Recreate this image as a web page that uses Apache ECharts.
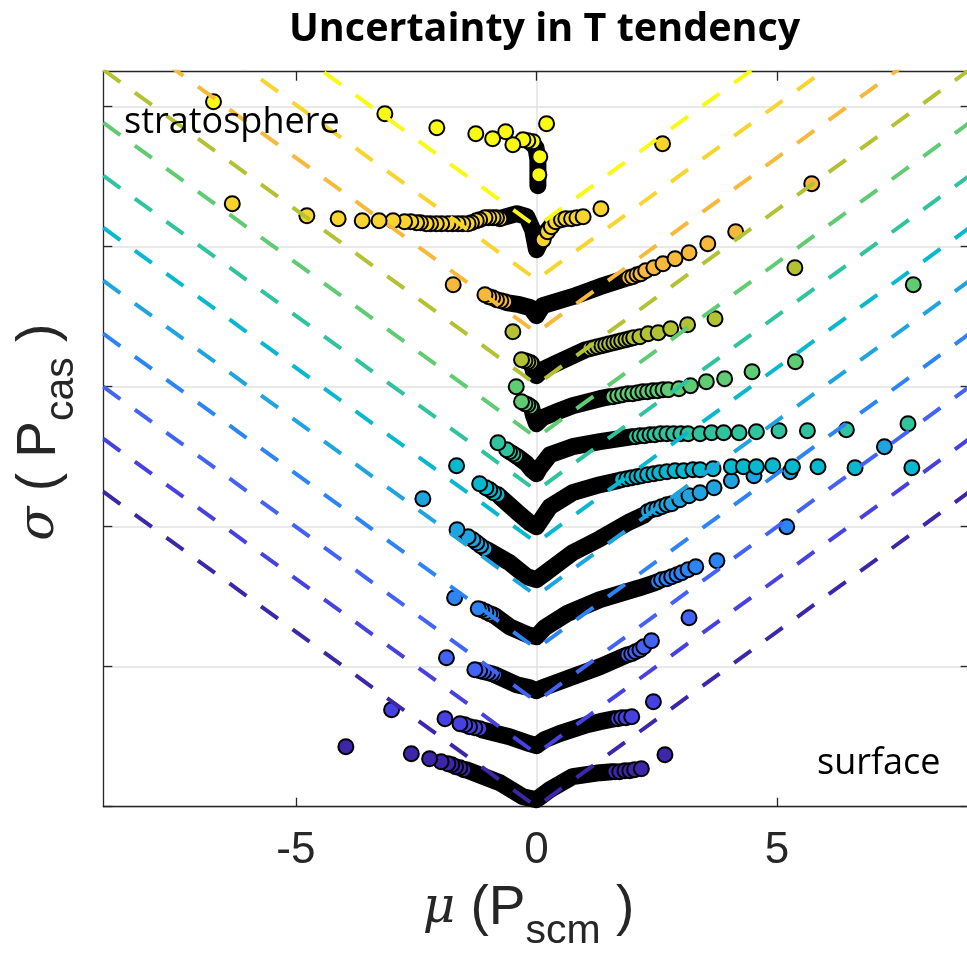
<!DOCTYPE html>
<html>
<head>
<meta charset="utf-8">
<script src="https://cdn.jsdelivr.net/npm/echarts@6/dist/echarts.min.js"></script>
<style>
  html, body { margin: 0; padding: 0; background: #fff; overflow: hidden; }
  #main { width: 967px; height: 957px; }
</style>
</head>
<body>
<div id="main"></div>
<script>
// x: mu (P_scm), y: offset sigma levels (no tick labels in the original)
const xTicks = [-5, 0, 5];
const yTicks = [0, 1.4, 2.8, 4.2, 5.6, 7.0];

// one colour per level, bottom (surface) to top (stratosphere)
const levelColors = ['#3E26A8', '#4741E2', '#4263F5', '#2D84F5', '#1FA4E0', '#08B8CF',
  '#2FC39E', '#5FCB73', '#B2C232', '#F6B93C', '#F8D52E', '#F9FA14'];

// dashed V guide lines: vertex height per level, rise at |mu| = 9
const vLevels = [0, 0.53, 1.05, 1.58, 2.11, 2.64, 3.16, 3.69, 4.22, 4.74, 5.27, 5.80];
const vRise = 3.15;

// dense cores (black mass of overlapping markers) and the visible markers per level
const band0 = [[-1.46, 0.37], [-0.76, 0.24], [-0.28, 0.10], [0, 0.07], [0.28, 0.17], [0.75, 0.30], [1.32, 0.34], [1.57, 0.35]];
const dots0 = [[-1.51, 0.37], [-1.59, 0.39], [-1.68, 0.40], [-1.76, 0.42], [-1.84, 0.43], [-1.98, 0.45], [-2.22, 0.48], [-2.60, 0.53], [-3.96, 0.60],
  [1.63, 0.35], [1.73, 0.35], [1.84, 0.36], [1.94, 0.36], [2.04, 0.37], [2.18, 0.38], [2.67, 0.52]];

const band1 = [[-1.14, 0.77], [-0.56, 0.70], [-0.14, 0.63], [0, 0.61], [0.17, 0.67], [0.48, 0.73], [1.05, 0.82], [1.32, 0.85], [1.63, 0.88]];
const dots1 = [[-1.18, 0.78], [-1.28, 0.79], [-1.39, 0.80], [-1.49, 0.82], [-1.59, 0.83], [-1.90, 0.88], [-3.01, 0.97],
  [1.69, 0.88], [1.77, 0.89], [1.86, 0.89], [1.98, 0.90], [2.43, 1.05]];

const band2 = [[-0.82, 1.31], [-0.41, 1.22], [-0.14, 1.19], [0, 1.16], [0.13, 1.19], [0.75, 1.30], [1.32, 1.40], [1.84, 1.51]];
const dots2 = [[-0.87, 1.32], [-0.93, 1.33], [-1.01, 1.34], [-1.10, 1.35], [-1.18, 1.36], [-1.28, 1.37], [-1.87, 1.49],
  [1.90, 1.52], [1.98, 1.53], [2.06, 1.55], [2.15, 1.57], [2.23, 1.60], [2.39, 1.66], [3.17, 1.89]];

const band3 = [[-0.87, 1.91], [-0.56, 1.80], [-0.18, 1.72], [0, 1.70], [0.17, 1.79], [0.63, 1.93], [1.32, 2.07], [2.15, 2.19], [2.46, 2.24]];
const dots3 = [[-0.91, 1.92], [-0.97, 1.93], [-1.05, 1.95], [-1.14, 1.97], [-1.21, 1.98], [-1.70, 2.09],
  [2.52, 2.25], [2.60, 2.27], [2.71, 2.28], [2.81, 2.30], [2.92, 2.32], [3.02, 2.34], [3.15, 2.37], [3.31, 2.40], [3.75, 2.46], [5.20, 2.80]];

const band4 = [[-1.03, 2.57], [-0.56, 2.44], [-0.20, 2.30], [0, 2.27], [0.17, 2.33], [0.75, 2.54], [1.32, 2.68], [1.94, 2.85], [2.25, 2.92]];
const dots4 = [[-1.07, 2.58], [-1.16, 2.61], [-1.24, 2.64], [-1.32, 2.67], [-1.42, 2.70], [-1.65, 2.77], [-2.36, 3.08],
  [2.31, 2.95], [2.40, 2.97], [2.50, 2.98], [2.60, 3.00], [2.71, 3.02], [2.81, 3.03], [2.98, 3.07], [3.17, 3.11], [3.40, 3.14],
  [3.69, 3.19], [4.05, 3.26], [4.52, 3.31], [5.27, 3.35], [7.23, 3.60]];

const band5 = [[-0.76, 3.10], [-0.41, 2.95], [-0.14, 2.84], [0, 2.80], [0.07, 2.85], [0.28, 3.00], [0.75, 3.14], [1.32, 3.22], [1.69, 3.26]];
const dots5 = [[-0.80, 3.12], [-0.89, 3.14], [-0.97, 3.17], [-1.05, 3.19], [-1.18, 3.23], [-1.66, 3.41],
  [1.77, 3.27], [1.88, 3.28], [1.98, 3.29], [2.09, 3.30], [2.19, 3.31], [2.31, 3.32], [2.44, 3.33], [2.56, 3.34], [2.71, 3.35],
  [2.88, 3.36], [3.06, 3.36], [3.25, 3.37], [3.40, 3.37], [3.67, 3.38], [4.05, 3.40], [4.30, 3.40], [4.57, 3.40], [4.91, 3.41],
  [5.32, 3.40], [5.85, 3.40], [6.62, 3.39], [7.80, 3.39]];

const band6 = [[-0.39, 3.50], [-0.20, 3.43], [-0.10, 3.37], [0, 3.33], [0.07, 3.39], [0.28, 3.52], [0.75, 3.60], [1.32, 3.65], [2.00, 3.70]];
const dots6 = [[-0.43, 3.51], [-0.49, 3.53], [-0.56, 3.55], [-0.62, 3.57], [-0.80, 3.64],
  [2.06, 3.70], [2.15, 3.71], [2.25, 3.71], [2.36, 3.72], [2.46, 3.72], [2.58, 3.73], [2.71, 3.73], [2.85, 3.73], [3.00, 3.73],
  [3.15, 3.73], [3.40, 3.73], [3.64, 3.74], [3.89, 3.74], [4.21, 3.74], [4.57, 3.75], [5.04, 3.76], [5.63, 3.76], [6.44, 3.77], [7.72, 3.83]];

const band7 = [[-0.10, 3.99], [-0.06, 3.91], [0, 3.83], [0.13, 3.89], [0.48, 3.96], [0.75, 4.01], [1.32, 4.08], [1.53, 4.10]];
const dots7 = [[-0.12, 4.00], [-0.18, 4.02], [-0.24, 4.03], [-0.31, 4.05], [-0.42, 4.20],
  [1.59, 4.10], [1.69, 4.11], [1.79, 4.12], [1.90, 4.13], [2.00, 4.13], [2.11, 4.14], [2.21, 4.15], [2.31, 4.15], [2.42, 4.16],
  [2.52, 4.16], [2.63, 4.17], [2.74, 4.17], [2.96, 4.18], [3.20, 4.21], [3.53, 4.25], [3.91, 4.28], [4.48, 4.35], [5.38, 4.45], [7.83, 5.22]];

const band8 = [[-0.10, 4.43], [-0.06, 4.35], [0, 4.31], [0.13, 4.37], [0.48, 4.45], [0.75, 4.51], [1.02, 4.57]];
const dots8 = [[-0.12, 4.44], [-0.18, 4.45], [-0.24, 4.46], [-0.31, 4.47], [-0.49, 4.75],
  [1.11, 4.58], [1.19, 4.59], [1.27, 4.60], [1.36, 4.61], [1.44, 4.62], [1.52, 4.63], [1.61, 4.64], [1.69, 4.65], [1.77, 4.66],
  [1.86, 4.67], [1.94, 4.68], [2.02, 4.69], [2.15, 4.70], [2.32, 4.73], [2.53, 4.74], [2.79, 4.78], [3.14, 4.82], [3.71, 4.88], [5.37, 5.39]];

const band9 = [[-0.62, 5.04], [-0.35, 5.02], [-0.12, 4.99], [0, 4.91], [0.13, 5.01], [0.75, 5.10], [1.32, 5.20], [1.84, 5.28]];
const dots9 = [[-0.66, 5.05], [-0.74, 5.06], [-0.83, 5.07], [-0.91, 5.09], [-0.99, 5.10], [-1.07, 5.12], [-1.73, 5.22],
  [1.92, 5.29], [2.00, 5.30], [2.09, 5.32], [2.17, 5.33], [2.27, 5.36], [2.44, 5.39], [2.63, 5.43], [2.88, 5.48], [3.17, 5.54],
  [3.56, 5.63], [4.14, 5.75], [5.72, 6.23]];

const band10 = [[-0.70, 5.89], [-0.41, 5.93], [-0.20, 5.90], [-0.08, 5.77], [0, 5.57], [0.07, 5.64], [0.19, 5.74], [0.34, 5.83]];
const dots10 = [[-0.76, 5.88], [-0.83, 5.89], [-0.90, 5.89], [-0.99, 5.89], [-1.07, 5.89], [-1.18, 5.87], [-1.25, 5.86], [-1.35, 5.84],
  [-1.42, 5.83], [-1.53, 5.83], [-1.63, 5.83], [-1.74, 5.83], [-1.84, 5.83], [-1.97, 5.83], [-2.08, 5.83], [-2.20, 5.83], [-2.29, 5.83],
  [-2.41, 5.84], [-2.49, 5.84], [-2.61, 5.85], [-2.74, 5.85], [-2.98, 5.86], [-3.27, 5.86], [-3.62, 5.86], [-4.12, 5.88], [-4.77, 5.91], [-6.32, 6.03],
  [0.14, 5.67], [0.23, 5.75], [0.31, 5.80], [0.40, 5.85], [0.52, 5.87], [0.61, 5.88], [0.73, 5.88], [0.84, 5.89], [0.97, 5.90], [1.34, 5.98], [2.62, 6.63]];

const band11 = [[-0.14, 6.65], [-0.01, 6.59], [0.03, 6.47], [0.03, 6.21]];
const dots11 = [[-0.07, 6.65], [-0.18, 6.66], [-0.28, 6.67], [-0.49, 6.62], [-0.64, 6.75], [-0.91, 6.68], [-1.26, 6.73], [-2.07, 6.79],
  [-3.15, 6.93], [-6.71, 7.05], [0.07, 6.50], [0.05, 6.32], [0.21, 6.83]];

const bands = [band0, band1, band2, band3, band4, band5, band6, band7, band8, band9, band10, band11];
const dots = [dots0, dots1, dots2, dots3, dots4, dots5, dots6, dots7, dots8, dots9, dots10, dots11];

const axisColor = '#262626';
const gridColor = '#e2e2e2';

const chart = echarts.init(document.getElementById('main'), null, { renderer: 'canvas' });

const series = [];
bands.forEach((band, i) => {
  series.push({
    type: 'line',
    data: band,
    symbol: 'none',
    silent: true,
    z: 2,
    lineStyle: { color: '#000', width: 17, cap: 'round', join: 'round' }
  });
  series.push({
    type: 'scatter',
    data: dots[i],
    symbolSize: 15,
    silent: true,
    z: 2,
    itemStyle: { color: levelColors[i], borderColor: '#000', borderWidth: 2, opacity: 1 }
  });
});
vLevels.forEach((lvl, i) => {
  series.push({
    type: 'line',
    data: [[-9, lvl + vRise], [0, lvl], [9, lvl + vRise]],
    symbol: 'none',
    silent: true,
    clip: true,
    z: 3,
    lineStyle: { color: levelColors[i], width: 4, type: [21, 18], cap: 'butt' }
  });
});

// axis titles: main text, italic greek symbol, dropped subscript
function nameRich(startPad, endPad) {
  return {
    g: { fontFamily: 'DejaVu Serif', fontStyle: 'italic', fontSize: 50, color: axisColor, padding: [0, 0, 0, startPad] },
    s: { fontFamily: 'Liberation Sans', fontSize: 41, color: axisColor, padding: [44, 0, 0, 0] },
    e: { fontFamily: 'Liberation Sans', fontSize: 55, color: axisColor, padding: [0, endPad, 0, 0] }
  };
}

chart.setOption({
  animation: false,
  backgroundColor: '#fff',
  title: {
    text: 'Uncertainty in T tendency',
    left: 284,
    top: 5,
    textStyle: { fontFamily: 'Open Sans', fontWeight: 'bold', fontSize: 39.5, color: '#000' }
  },
  grid: { left: 103.3, top: 71.7, width: 866.3, height: 735, outerBoundsMode: 'none', containLabel: false },
  xAxis: [{
    type: 'value',
    min: -9,
    max: 9,
    position: 'bottom',
    name: '{g|μ} (P{s|scm}{e| )}',
    nameLocation: 'middle',
    nameGap: 60,
    nameTextStyle: { fontFamily: 'Liberation Sans', fontSize: 55, color: axisColor, rich: nameRich(0, 16) },
    axisLine: { show: true, onZero: false, lineStyle: { color: axisColor, width: 1.3 } },
    axisTick: { show: true, inside: true, length: 9, customValues: xTicks, lineStyle: { color: axisColor, width: 1.3 } },
    axisLabel: { customValues: xTicks, margin: 22, fontFamily: 'Liberation Sans', fontSize: 44, color: axisColor },
    splitLine: { show: true, showMinLine: false, showMaxLine: false, lineStyle: { color: gridColor, width: 1.5 } }
  }, {
    type: 'value',
    min: -9,
    max: 9,
    position: 'top',
    axisLine: { show: true, onZero: false, lineStyle: { color: axisColor, width: 1.3 } },
    axisTick: { show: true, inside: true, length: 9, customValues: xTicks, lineStyle: { color: axisColor, width: 1.3 } },
    axisLabel: { show: false },
    splitLine: { show: false }
  }],
  yAxis: [{
    type: 'value',
    min: 0,
    max: 7.35,
    position: 'left',
    name: '{g|σ} ( P{s|cas}{e| )}',
    nameLocation: 'middle',
    nameRotate: 90,
    nameGap: 21,
    nameTextStyle: { fontFamily: 'Liberation Sans', fontSize: 55, color: axisColor, rich: nameRich(14, 0) },
    axisLine: { show: true, onZero: false, lineStyle: { color: axisColor, width: 1.3 } },
    axisTick: { show: true, inside: true, length: 9, customValues: yTicks, lineStyle: { color: axisColor, width: 1.3 } },
    axisLabel: { show: false },
    splitLine: { show: true, lineStyle: { color: gridColor, width: 1.5 } }
  }, {
    type: 'value',
    min: 0,
    max: 7.35,
    position: 'right',
    axisLine: { show: true, onZero: false, lineStyle: { color: axisColor, width: 1.3, opacity: 0 } },
    axisTick: { show: true, inside: true, length: 9, customValues: yTicks, lineStyle: { color: axisColor, width: 1.3 } },
    axisLabel: { show: false },
    splitLine: { show: false }
  }],
  graphic: [{
    type: 'text',
    left: 124,
    top: 105,
    z: 10,
    style: { text: 'stratosphere', font: '36px "Open Sans"', fill: '#000' }
  }, {
    type: 'text',
    left: 817,
    top: 746,
    z: 10,
    style: { text: 'surface', font: '36px "Open Sans"', fill: '#000' }
  }],
  series: series
});
</script>
</body>
</html>
